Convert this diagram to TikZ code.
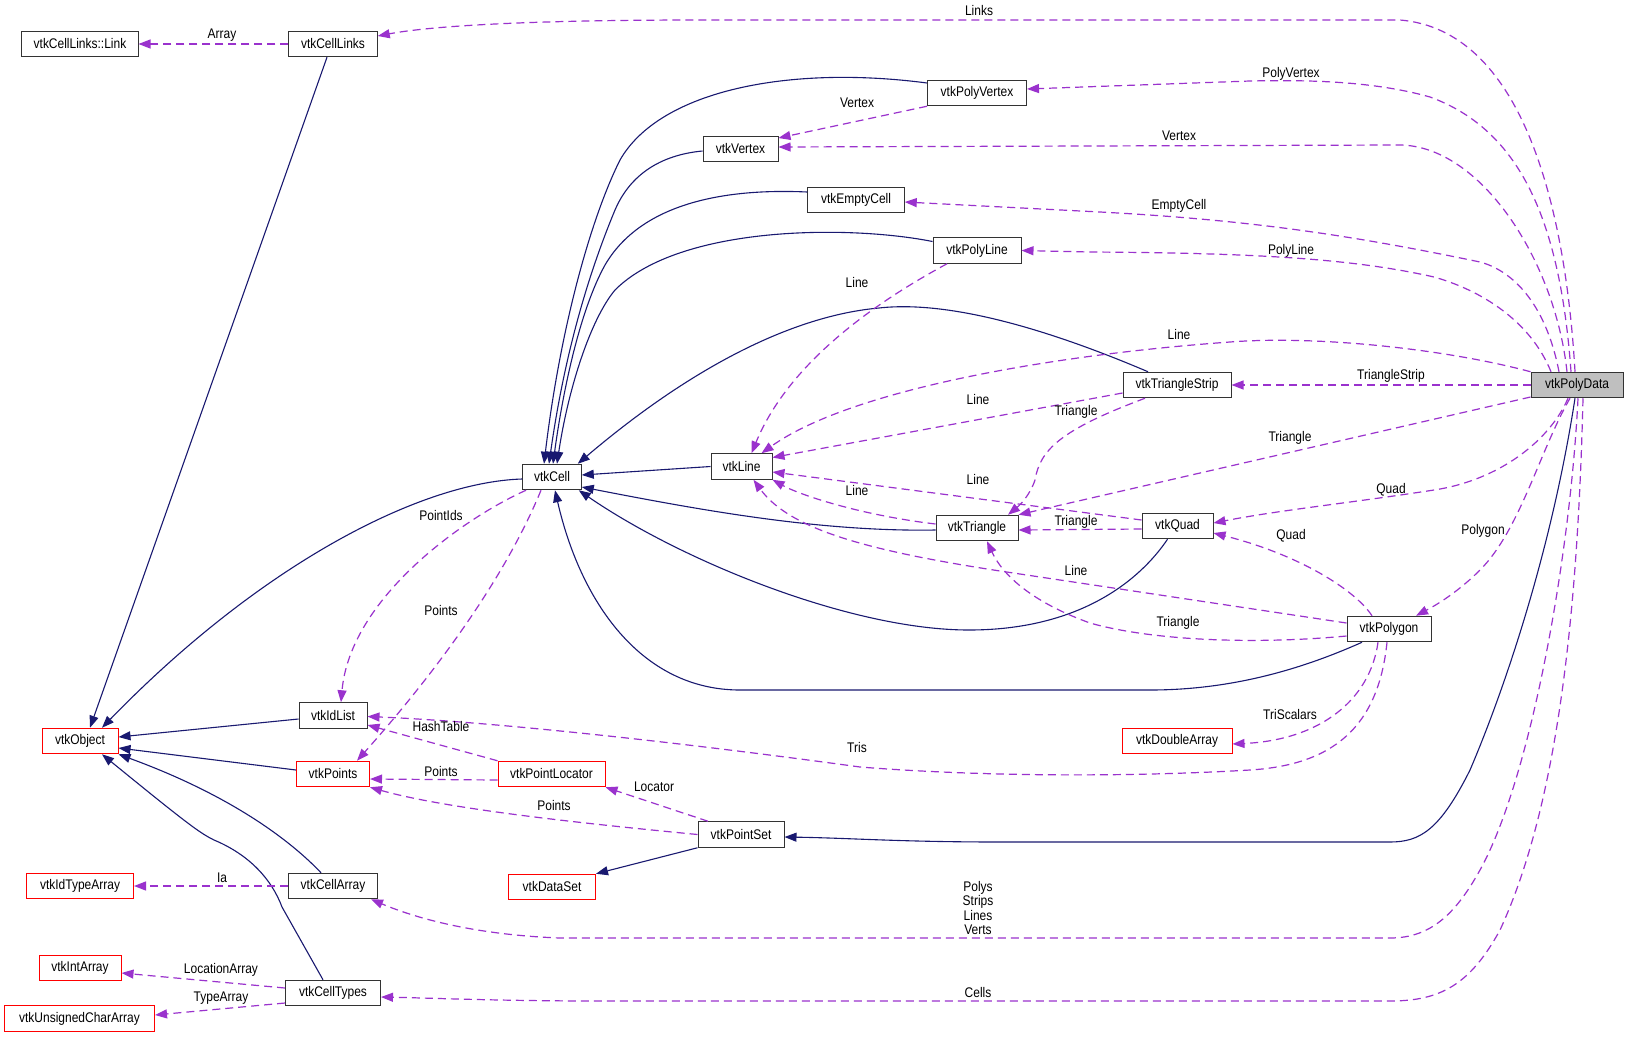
\documentclass[tikz,border=0pt]{standalone}
\usepackage{fontspec}
\setmainfont{Liberation Sans}[FakeStretch=0.86]
\usetikzlibrary{arrows.meta}
\definecolor{inhc}{HTML}{191970}
\definecolor{usec}{HTML}{9A32CD}
\definecolor{pdfill}{HTML}{BFBFBF}
\begin{document}
\begin{tikzpicture}[x=1bp,y=-1bp,
  cls/.style={draw=black!80, line width=1bp, fill=white, minimum height=25.5bp, inner sep=0pt, font=\fontsize{14}{16}\selectfont},
  redcls/.style={cls, draw=red},
  lbl/.style={font=\fontsize{14}{16}\selectfont, inner sep=0pt},
  inhe/.style={draw=inhc, line width=1.1bp, -{Triangle[length=12bp,width=9bp]}},
  usee/.style={draw=usec, line width=1.2bp, dash pattern=on 8bp off 5bp, -{Triangle[length=12bp,width=9bp]}}]
\useasboundingbox (0,0) rectangle (1629,1037);
\fill[white] (0,0) rectangle (1629,1037);

% nodes
\node[cls, minimum width=116bp] (link) at (80,44) {vtkCellLinks::Link};
\node[cls, minimum width=88.5bp] (links) at (333,44) {vtkCellLinks};
\node[cls, minimum width=99bp] (pv) at (977,93) {vtkPolyVertex};
\node[cls, minimum width=75bp] (vtx) at (740.5,149) {vtkVertex};
\node[cls, minimum width=96.5bp] (ec) at (856,200) {vtkEmptyCell};
\node[cls, minimum width=88bp] (pl) at (977,250.5) {vtkPolyLine};
\node[cls, minimum width=108bp] (ts) at (1177,385) {vtkTriangleStrip};
\node[cls, minimum width=92bp, fill=pdfill] (pd) at (1577,385) {vtkPolyData};
\node[cls, minimum width=58.5bp] (cell) at (552,477) {vtkCell};
\node[cls, minimum width=61bp] (line) at (741.5,466.5) {vtkLine};
\node[cls, minimum width=82bp] (tri) at (977,528) {vtkTriangle};
\node[cls, minimum width=71bp] (quad) at (1177.5,526) {vtkQuad};
\node[cls, minimum width=84bp] (poly) at (1389,629) {vtkPolygon};
\node[cls, minimum width=68bp] (idl) at (333,715.5) {vtkIdList};
\node[redcls, minimum width=73bp] (pts) at (333,774) {vtkPoints};
\node[redcls, minimum width=107bp] (ploc) at (551.5,774) {vtkPointLocator};
\node[redcls, minimum width=76bp] (obj) at (80,741) {vtkObject};
\node[redcls, minimum width=107bp] (ita) at (80,886) {vtkIdTypeArray};
\node[cls, minimum width=89bp] (ca) at (333,886) {vtkCellArray};
\node[redcls, minimum width=87bp] (ds) at (552,887) {vtkDataSet};
\node[redcls, minimum width=82bp] (ia) at (80,968) {vtkIntArray};
\node[cls, minimum width=95bp] (ct) at (333,993) {vtkCellTypes};
\node[redcls, minimum width=150bp] (uca) at (79.5,1018.5) {vtkUnsignedCharArray};
\node[cls, minimum width=86bp] (ps) at (741,834.5) {vtkPointSet};
\node[redcls, minimum width=110bp] (da) at (1177,741) {vtkDoubleArray};

% inheritance
\draw[inhe] ([xshift=-6bp]links.south) -- ([xshift=10bp]obj.north);
\draw[inhe] ([yshift=-2bp]cell.west) .. controls (420,482) and (260,565) .. ([xshift=22bp]obj.north);
\draw[inhe] ([yshift=-3.5bp]idl.west) -- ([yshift=4bp]obj.east);
\draw[inhe] ([yshift=4bp]pts.west) -- ([yshift=-7bp]obj.east);
\draw[inhe] ([xshift=-12bp]ca.north) .. controls (290,840) and (230,795) .. (obj.south east);
\draw[inhe] ([xshift=-10bp]ct.north) -- (282,907) .. controls (272,880) and (250,855) .. (214,840) .. controls (200,833) and (190,826) .. ([xshift=22bp]obj.south);
\draw[inhe] ([yshift=10bp]pv.west) .. controls (790,65) and (660,90) .. (620,160) .. controls (590,220) and (560,330) .. ([xshift=-8bp]cell.north);
\draw[inhe] ([yshift=-2bp]vtx.west) .. controls (660,155) and (630,175) .. (615,210) .. controls (590,270) and (565,350) .. ([xshift=-3bp]cell.north);
\draw[inhe] ([yshift=8bp]ec.west) .. controls (720,188) and (640,205) .. (605,265) .. controls (580,310) and (563,390) .. ([xshift=1bp]cell.north);
\draw[inhe] ([yshift=9bp]pl.west) .. controls (850,225) and (680,225) .. (615,290) .. controls (590,320) and (568,390) .. ([xshift=5bp]cell.north);
\draw[inhe] ([xshift=-29bp]ts.north) .. controls (1050,330) and (950,300) .. (879,308) .. controls (800,315) and (700,360) .. ([xshift=-4bp]cell.north east);
\draw[inhe] (line.west) -- ([yshift=2bp]cell.east);
\draw[inhe] ([yshift=-2bp]tri.west) .. controls (820,532) and (700,510) .. ([yshift=-10bp]cell.east);
\draw[inhe] ([xshift=-10bp]quad.south) .. controls (1140,580) and (1080,630) .. (969,630) .. controls (850,630) and (680,560) .. ([xshift=-3bp]cell.south east);
\draw[inhe] ([xshift=-27bp]poly.south) .. controls (1300,670) and (1230,690) .. (1150,690) -- (740,690) .. controls (640,690) and (580,600) .. ([xshift=3bp]cell.south);
\draw[inhe] ([xshift=-2bp]pd.south) .. controls (1550,560) and (1500,700) .. (1470,770) .. controls (1440,830) and (1420,842) .. (1390,842) -- (1000,842) .. controls (900,842) and (850,838) .. ([yshift=-2.5bp]ps.east);
\draw[inhe] (ps.south west) -- (ds.north east);

% usage
\draw[usee] ([xshift=-2bp]pd.north) .. controls (1565,200) and (1520,30) .. (1400,20) -- (700,20) .. controls (500,20) and (420,28) .. ([yshift=8bp]links.east);
\draw[usee] ([xshift=-6bp]pd.north) .. controls (1560,220) and (1520,130) .. (1430,97) .. controls (1370,80) and (1300,80) .. (1250,81) -- ([yshift=4bp]pv.east);
\draw[usee] ([xshift=-10bp]pd.north) .. controls (1555,260) and (1480,145) .. (1399,145) -- ([yshift=2bp]vtx.east);
\draw[usee] ([xshift=-18bp]pd.north) .. controls (1545,300) and (1510,270) .. (1480,262) .. controls (1350,235) and (1250,220) .. (1100,212) -- ([yshift=-2bp]ec.east);
\draw[usee] ([xshift=-26bp]pd.north) .. controls (1530,320) and (1480,290) .. (1434,277) .. controls (1350,258) and (1250,253) .. (1090,252) -- (pl.east);
\draw[usee] (pd.north west) .. controls (1450,350) and (1320,335) .. (1230,342) .. controls (1050,355) and (850,390) .. ([xshift=20bp]line.north);
\draw[usee] (pd.west) -- (ts.east);
\draw[usee] ([yshift=-12bp]pd.west) -- (tri.north east);
\draw[usee] ([xshift=-9bp]pd.south) .. controls (1550,440) and (1500,480) .. (1434,490) .. controls (1350,503) and (1280,510) .. ([yshift=3bp]quad.east);
\draw[usee] ([xshift=-7bp]pd.south) .. controls (1540,450) and (1520,530) .. (1480,570) .. controls (1460,590) and (1440,603) .. ([xshift=27bp]poly.north);
\draw[usee] ([xshift=1bp]pd.south) .. controls (1570,560) and (1530,780) .. (1480,870) .. controls (1455,915) and (1430,938) .. (1390,938) -- (560,938) .. controls (480,935) and (420,920) .. ([xshift=38bp]ca.south);
\draw[usee] ([xshift=6bp]pd.south) .. controls (1578,600) and (1560,800) .. (1500,930) .. controls (1470,985) and (1440,1001) .. (1390,1001) -- (600,1001) .. controls (500,1001) and (430,998) .. ([yshift=-4bp]ct.east);
\draw[usee] (pv.south west) -- ([yshift=11bp]vtx.east);
\draw[usee] ([xshift=-30bp]pl.south) .. controls (880,300) and (790,360) .. ([xshift=10bp]line.north);
\draw[usee] ([yshift=-8bp]ts.west) -- ([yshift=9bp]line.east);
\draw[usee] ([xshift=-32bp]ts.south) .. controls (1060,430) and (1040,450) .. (1035,480) .. controls (1030,495) and (1020,505) .. ([xshift=31bp]tri.north);
\draw[usee] ([yshift=6bp]quad.west) -- ([yshift=-5.5bp]line.east);
\draw[usee] ([yshift=-3bp]quad.west) -- ([yshift=-2bp]tri.east);
\draw[usee] ([yshift=4bp]tri.west) .. controls (860,515) and (800,495) .. (line.south east);
\draw[usee] ([xshift=-17bp]poly.north) .. controls (1355,590) and (1300,555) .. ([yshift=-7bp]quad.east);
\draw[usee] ([yshift=6bp]poly.west) -- (1000,571) .. controls (870,551) and (790,530) .. ([xshift=12bp]line.south);
\draw[usee] ([yshift=-7bp]poly.west) .. controls (1250,645) and (1150,640) .. (1090,623) .. controls (1040,605) and (1005,580) .. ([xshift=10bp]tri.south);
\draw[usee] ([xshift=-11bp]poly.south) .. controls (1370,700) and (1320,740) .. ([yshift=-3bp]da.east);
\draw[usee] ([xshift=-2bp]poly.south) .. controls (1378,730) and (1330,765) .. (1250,770) .. controls (1150,776) and (1000,778) .. (860,767) .. controls (700,745) and (500,722) .. ([yshift=-1bp]idl.east);
\draw[usee] ([xshift=-26bp]cell.south) .. controls (460,520) and (350,600) .. ([xshift=8bp]idl.north);
\draw[usee] ([xshift=-11bp]cell.south) .. controls (500,590) and (420,690) .. ([xshift=24bp]pts.north);
\draw[usee] (ploc.north west) -- ([yshift=-9.5bp]idl.east);
\draw[usee] ([yshift=-6bp]ploc.west) -- ([yshift=-5bp]pts.east);
\draw[usee] ([xshift=-33bp]ps.north) -- (ploc.south east);
\draw[usee] (ps.west) .. controls (600,825) and (450,810) .. (pts.south east);
\draw[usee] (links.west) -- (link.east);
\draw[usee] (ca.west) -- (ita.east);
\draw[usee] ([yshift=5bp]ct.west) -- ([yshift=-5bp]ia.east);
\draw[usee] ([yshift=-10bp]ct.west) -- ([yshift=3.5bp]uca.east);

% labels
\node[lbl] (l1) at (979,11) {Links};
\node[lbl] (l2) at (222,35) {Array};
\node[lbl] (l3) at (1291,74) {PolyVertex};
\node[lbl] (l4) at (857,103) {Vertex};
\node[lbl] (l5) at (1179,136) {Vertex};
\node[lbl] (l6) at (1179,206) {EmptyCell};
\node[lbl] (l7) at (1291,251) {PolyLine};
\node[lbl] (l8) at (857,283) {Line};
\node[lbl] (l9) at (1179,335) {Line};
\node[lbl] (l10) at (1391,376) {TriangleStrip};
\node[lbl] (l11) at (978,400) {Line};
\node[lbl] (l12) at (1076,412) {Triangle};
\node[lbl] (l13) at (1290,438) {Triangle};
\node[lbl] (l14) at (978,480) {Line};
\node[lbl] (l15) at (857,491) {Line};
\node[lbl] (l16) at (1391,490) {Quad};
\node[lbl] (l17) at (441,516) {PointIds};
\node[lbl] (l18) at (1076,522) {Triangle};
\node[lbl] (l19) at (1483,531) {Polygon};
\node[lbl] (l20) at (1291,536) {Quad};
\node[lbl] (l21) at (1076,571) {Line};
\node[lbl] (l22) at (441,611) {Points};
\node[lbl] (l23) at (1178,623) {Triangle};
\node[lbl] (l24) at (1290,715) {TriScalars};
\node[lbl] (l25) at (441,727) {HashTable};
\node[lbl] (l26) at (857,748) {Tris};
\node[lbl] (l27) at (441,772) {Points};
\node[lbl] (l28) at (654,787) {Locator};
\node[lbl] (l29) at (554,806) {Points};
\node[lbl] (l30) at (222,878) {Ia};
\node[lbl, align=center, font=\fontsize{14}{14.7}\selectfont] (l31) at (978,908) {Polys\\Strips\\Lines\\Verts};
\node[lbl] (l32) at (221,970) {LocationArray};
\node[lbl] (l33) at (978,992) {Cells};
\node[lbl] (l34) at (221,998) {TypeArray};
\end{tikzpicture}
\end{document}
